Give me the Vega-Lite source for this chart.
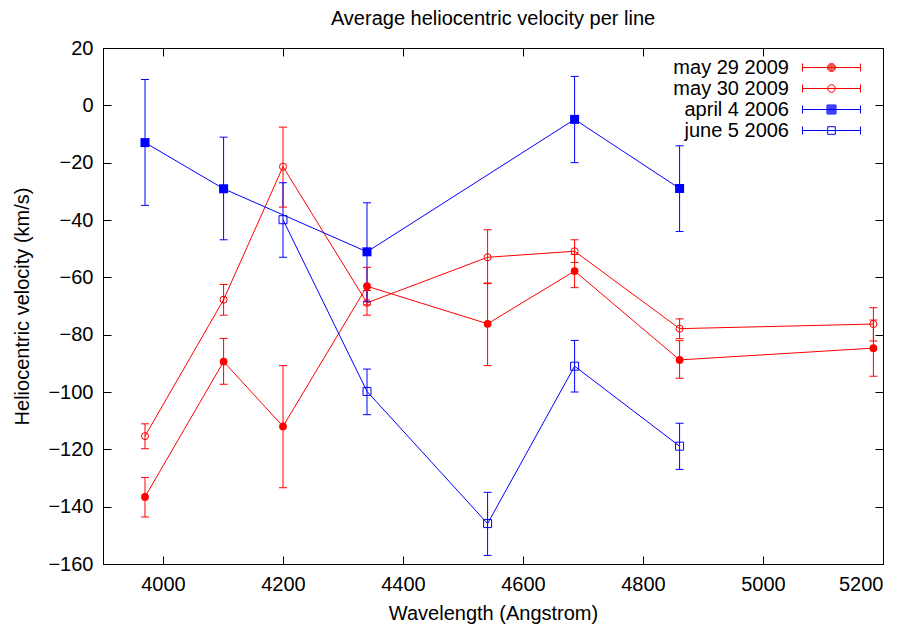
{
  "$schema": "https://vega.github.io/schema/vega-lite/v6.json",
  "width": 780,
  "height": 516,
  "autosize": "none",
  "padding": {"left": 103, "top": 48, "right": 29, "bottom": 64},
  "background": "white",
  "title": {"text": "Average heliocentric velocity per line", "font": "Liberation Sans", "fontSize": 20, "fontWeight": "normal", "color": "black", "baseline": "alphabetic", "offset": 23, "dy": 30},
  "config": {
    "view": {"stroke": "black", "strokeWidth": 1},
    "axis": {"domainColor": "black", "tickColor": "black", "labelColor": "black", "titleColor": "black", "labelFont": "Liberation Sans", "titleFont": "Liberation Sans", "labelFontSize": 20, "titleFontSize": 20, "titleFontWeight": "normal", "grid": false, "tickSize": -8, "tickWidth": 1, "domainWidth": 1},
    "legend": {"symbolSize": 400, "symbolFillColor": "transparent"}
  },
  "datasets": {"pts": [
    {"series": "may 29 2009", "wl": 3970, "v": -136.6, "lo": -143.6, "hi": -129.8},
    {"series": "may 29 2009", "wl": 4101, "v": -89.4, "lo": -97.3, "hi": -81.3},
    {"series": "may 29 2009", "wl": 4200, "v": -112, "lo": -133.4, "hi": -90.8},
    {"series": "may 29 2009", "wl": 4340, "v": -63.1, "lo": -69.6, "hi": -56.5},
    {"series": "may 29 2009", "wl": 4541, "v": -76.2, "lo": -90.8, "hi": -62},
    {"series": "may 29 2009", "wl": 4686, "v": -57.8, "lo": -63.6, "hi": -52},
    {"series": "may 29 2009", "wl": 4861, "v": -88.8, "lo": -95.2, "hi": -82.1},
    {"series": "may 29 2009", "wl": 5184, "v": -84.7, "lo": -94.5, "hi": -74.9},
    {"series": "may 30 2009", "wl": 3970, "v": -115.4, "lo": -119.8, "hi": -111.1},
    {"series": "may 30 2009", "wl": 4101, "v": -67.8, "lo": -73.2, "hi": -62.5},
    {"series": "may 30 2009", "wl": 4200, "v": -21.4, "lo": -35.5, "hi": -7.6},
    {"series": "may 30 2009", "wl": 4340, "v": -68.9, "lo": -73.2, "hi": -64.6},
    {"series": "may 30 2009", "wl": 4541, "v": -53, "lo": -62.2, "hi": -43.4},
    {"series": "may 30 2009", "wl": 4686, "v": -50.9, "lo": -54.8, "hi": -46.9},
    {"series": "may 30 2009", "wl": 4861, "v": -77.9, "lo": -81.4, "hi": -74.5},
    {"series": "may 30 2009", "wl": 5184, "v": -76.3, "lo": -82.2, "hi": -70.6},
    {"series": "april 4 2006", "wl": 3970, "v": -13, "lo": -34.9, "hi": 9},
    {"series": "april 4 2006", "wl": 4101, "v": -29.1, "lo": -46.9, "hi": -11.1},
    {"series": "april 4 2006", "wl": 4340, "v": -51.1, "lo": -68.5, "hi": -34},
    {"series": "april 4 2006", "wl": 4686, "v": -4.9, "lo": -20, "hi": 10.1},
    {"series": "april 4 2006", "wl": 4861, "v": -29, "lo": -44, "hi": -14.1},
    {"series": "june 5 2006", "wl": 4200, "v": -39.9, "lo": -53, "hi": -27},
    {"series": "june 5 2006", "wl": 4340, "v": -99.8, "lo": -107.9, "hi": -92},
    {"series": "june 5 2006", "wl": 4541, "v": -145.9, "lo": -157, "hi": -135},
    {"series": "june 5 2006", "wl": 4686, "v": -91, "lo": -100, "hi": -82},
    {"series": "june 5 2006", "wl": 4861, "v": -118.9, "lo": -127, "hi": -110.9}
  ]},
  "data": {"name": "pts"},
  "resolve": {"axis": {"x": "independent", "y": "independent"}},
  "layer": [
    {
      "mark": {"type": "line", "strokeWidth": 1},
      "encoding": {
        "x": {"field": "wl", "type": "quantitative", "scale": {"domain": [3900, 5200], "nice": false, "zero": false}, "axis": {"orient": "bottom", "values": [4000, 4200, 4400, 4600, 4800, 5000, 5200], "format": "d", "title": "Wavelength (Angstrom)", "labelPadding": 18, "titleBaseline": "alphabetic", "titleY": 55}},
        "y": {"field": "v", "type": "quantitative", "scale": {"domain": [-160, 20], "nice": false, "zero": false}, "axis": {"orient": "left", "values": [-160, -140, -120, -100, -80, -60, -40, -20, 0, 20], "title": "Heliocentric velocity (km/s)", "labelPadding": 18, "titleBaseline": "alphabetic", "titleX": -75, "titleY": 258}},
        "color": {"field": "series", "type": "nominal", "scale": {"domain": ["may 29 2009", "may 30 2009", "april 4 2006", "june 5 2006"], "range": ["#ff0000", "#ff0000", "#0000ff", "#0000ff"]},
          "legend": {"orient": "none", "legendX": 718, "legendY": 9, "title": null, "labelFont": "Liberation Sans", "labelFontSize": 20, "labelColor": "black", "labelAlign": "right", "labelOffset": -53, "symbolSize": 400, "symbolStrokeWidth": 1, "symbolOpacity": 1, "symbolFillColor": "transparent", "padding": 0, "rowPadding": 0}
        }
      }
    },
    {
      "mark": {"type": "rule", "strokeWidth": 1},
      "encoding": {
        "x": {"field": "wl", "type": "quantitative", "axis": {"orient": "top", "values": [4000, 4200, 4400, 4600, 4800, 5000, 5200], "labels": false, "title": null, "domain": false}},
        "y": {"field": "lo", "type": "quantitative", "axis": {"orient": "right", "values": [-160, -140, -120, -100, -80, -60, -40, -20, 0, 20], "labels": false, "title": null, "domain": false}},
        "y2": {"field": "hi"},
        "color": {"field": "series", "type": "nominal"}
      }
    },
    {
      "transform": [{"filter": "datum.series == 'may 29 2009' || datum.series == 'may 30 2009'"}],
      "mark": {"type": "tick", "orient": "horizontal", "size": 8, "thickness": 1, "color": "#ff0000", "opacity": 1},
      "encoding": {
        "x": {"field": "wl", "type": "quantitative", "axis": null},
        "y": {"field": "lo", "type": "quantitative", "axis": null}
      }
    },
    {
      "transform": [{"filter": "datum.series == 'may 29 2009' || datum.series == 'may 30 2009'"}],
      "mark": {"type": "tick", "orient": "horizontal", "size": 8, "thickness": 1, "color": "#ff0000", "opacity": 1},
      "encoding": {
        "x": {"field": "wl", "type": "quantitative", "axis": null},
        "y": {"field": "hi", "type": "quantitative", "axis": null}
      }
    },
    {
      "transform": [{"filter": "datum.series == 'april 4 2006' || datum.series == 'june 5 2006'"}],
      "mark": {"type": "tick", "orient": "horizontal", "size": 8, "thickness": 1, "color": "#0000ff", "opacity": 1},
      "encoding": {
        "x": {"field": "wl", "type": "quantitative", "axis": null},
        "y": {"field": "lo", "type": "quantitative", "axis": null}
      }
    },
    {
      "transform": [{"filter": "datum.series == 'april 4 2006' || datum.series == 'june 5 2006'"}],
      "mark": {"type": "tick", "orient": "horizontal", "size": 8, "thickness": 1, "color": "#0000ff", "opacity": 1},
      "encoding": {
        "x": {"field": "wl", "type": "quantitative", "axis": null},
        "y": {"field": "hi", "type": "quantitative", "axis": null}
      }
    },
    {
      "mark": {"type": "point", "filled": false, "strokeWidth": 1, "size": 0, "opacity": 1},
      "encoding": {
        "x": {"field": "wl", "type": "quantitative", "axis": null},
        "y": {"field": "v", "type": "quantitative", "axis": null},
        "color": {"field": "series", "type": "nominal"},
        "shape": {"field": "series", "type": "nominal", "scale": {"domain": ["may 29 2009", "may 30 2009", "april 4 2006", "june 5 2006"], "range": [
          "M-2.9,0H2.9M-2.9,-0.4V0.4M2.9,-0.4V0.4M0.4,0A0.4,0.4 0 1,1 -0.4,0A0.4,0.4 0 1,1 0.4,0ZM0.3,0A0.3,0.3 0 1,1 -0.3,0A0.3,0.3 0 1,1 0.3,0ZM0.2,0A0.2,0.2 0 1,1 -0.2,0A0.2,0.2 0 1,1 0.2,0ZM0.1,0A0.1,0.1 0 1,1 -0.1,0A0.1,0.1 0 1,1 0.1,0Z",
          "M-2.9,0H2.9M-2.9,-0.4V0.4M2.9,-0.4V0.4M0.38,0A0.38,0.38 0 1,1 -0.38,0A0.38,0.38 0 1,1 0.38,0Z",
          "M-2.9,0H2.9M-2.9,-0.4V0.4M2.9,-0.4V0.4M-0.45,-0.45H0.45V0.45H-0.45ZM-0.35,-0.35H0.35V0.35H-0.35ZM-0.25,-0.25H0.25V0.25H-0.25ZM-0.15,-0.15H0.15V0.15H-0.15ZM-0.05,-0.05H0.05V0.05H-0.05Z",
          "M-2.9,0H2.9M-2.9,-0.4V0.4M2.9,-0.4V0.4M-0.38,-0.38H0.38V0.38H-0.38Z"
        ]}}
      }
    },
    {
      "transform": [{"filter": "datum.series == 'may 29 2009'"}],
      "mark": {"type": "point", "shape": "circle", "size": 60, "filled": true, "color": "#ff0000", "strokeWidth": 1, "opacity": 1},
      "encoding": {
        "x": {"field": "wl", "type": "quantitative", "axis": null},
        "y": {"field": "v", "type": "quantitative", "axis": null}
      }
    },
    {
      "transform": [{"filter": "datum.series == 'may 30 2009'"}],
      "mark": {"type": "point", "shape": "circle", "size": 50, "filled": false, "color": "#ff0000", "strokeWidth": 1, "opacity": 1},
      "encoding": {
        "x": {"field": "wl", "type": "quantitative", "axis": null},
        "y": {"field": "v", "type": "quantitative", "axis": null}
      }
    },
    {
      "transform": [{"filter": "datum.series == 'april 4 2006'"}],
      "mark": {"type": "point", "shape": "square", "size": 81, "filled": true, "color": "#0000ff", "strokeWidth": 1, "opacity": 1},
      "encoding": {
        "x": {"field": "wl", "type": "quantitative", "axis": null},
        "y": {"field": "v", "type": "quantitative", "axis": null}
      }
    },
    {
      "transform": [{"filter": "datum.series == 'june 5 2006'"}],
      "mark": {"type": "point", "shape": "square", "size": 64, "filled": false, "color": "#0000ff", "strokeWidth": 1, "opacity": 1},
      "encoding": {
        "x": {"field": "wl", "type": "quantitative", "axis": null},
        "y": {"field": "v", "type": "quantitative", "axis": null}
      }
    }
  ]
}
